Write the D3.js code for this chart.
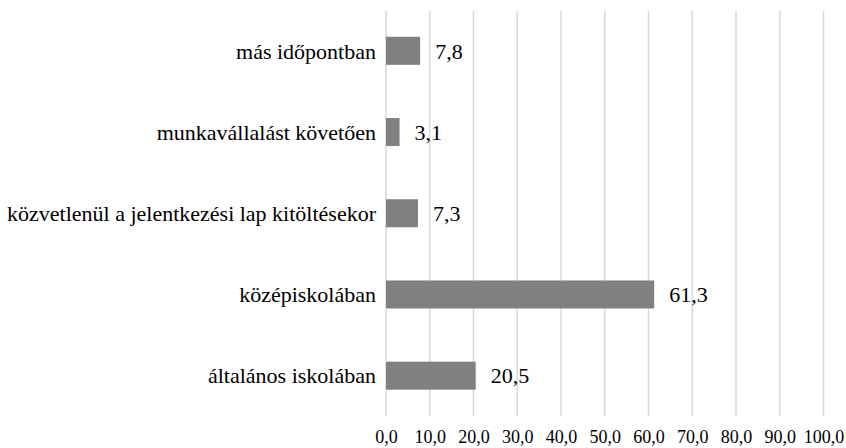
<!DOCTYPE html>
<html>
<head>
<meta charset="utf-8">
<script src="https://cdn.jsdelivr.net/npm/d3@7"></script>
<style>
  body { margin: 0; background: #fff; }
</style>
</head>
<body>
<svg id="chart"></svg>
<script>
// data, top to bottom as drawn
const categories = [
  "más időpontban",
  "munkavállalást követően",
  "közvetlenül a jelentkezési lap kitöltésekor",
  "középiskolában",
  "általános iskolában"
];
const values = [7.8, 3.1, 7.3, 61.3, 20.5];
const tickValues = [0, 10, 20, 30, 40, 50, 60, 70, 80, 90, 100];

const width = 846, height = 448;
const serif = "'Liberation Serif', 'Times New Roman', serif";
const fmt = d => d.toFixed(1).replace(".", ",");

const svg = d3.select("#chart")
  .attr("width", width)
  .attr("height", height);

const x = d3.scaleLinear().domain([0, 100]).range([386, 823.5]);
const y = d3.scaleBand().domain(categories).range([10, 416.5]).paddingInner(0.655).paddingOuter(0.33);

// gridlines
svg.append("g").selectAll("line")
  .data(tickValues)
  .enter().append("line")
    .attr("x1", d => x(d)).attr("x2", d => x(d))
    .attr("y1", 11).attr("y2", 416)
    .style("stroke", "#d9d9d9")
    .style("stroke-width", "1.5px");

// bars
svg.append("g").selectAll("rect")
  .data(values)
  .enter().append("rect")
    .attr("x", x(0))
    .attr("y", (d, i) => y(categories[i]))
    .attr("width", d => x(d) - x(0))
    .attr("height", y.bandwidth())
    .style("fill", "#808080");

// value labels
svg.append("g").selectAll("text")
  .data(values)
  .enter().append("text")
    .attr("x", d => x(d) + 15)
    .attr("y", (d, i) => y(categories[i]) + y.bandwidth() / 2)
    .attr("dy", "0.35em")
    .style("font-family", serif)
    .style("font-size", "22px")
    .style("fill", "#000")
    .text(fmt);

// category labels
svg.append("g").selectAll("text")
  .data(categories)
  .enter().append("text")
    .attr("x", 376)
    .attr("y", d => y(d) + y.bandwidth() / 2)
    .attr("dy", "0.35em")
    .attr("text-anchor", "end")
    .style("font-family", serif)
    .style("font-size", "22px")
    .style("fill", "#000")
    .text(d => d);

// x axis labels
const axis = d3.axisBottom(x).tickValues(tickValues).tickFormat(fmt).tickSize(0).tickPadding(0);
const gx = svg.append("g").attr("transform", "translate(0,430)").call(axis);
gx.select(".domain").remove();
gx.selectAll("text")
  .style("font-family", serif)
  .style("font-size", "18px")
  .style("fill", "#000");
</script>
</body>
</html>
